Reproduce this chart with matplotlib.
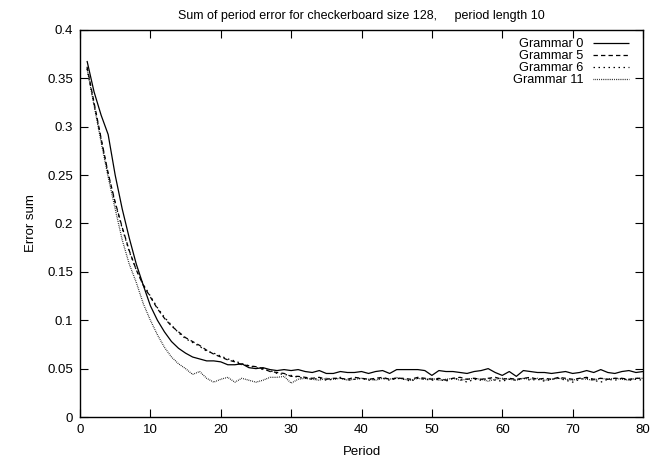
import matplotlib
matplotlib.use("Agg")
import matplotlib.pyplot as plt

plt.rcParams['font.family'] = ['Liberation Sans', 'DejaVu Sans']

periods = list(range(1, 81))

grammar0 = [0.368, 0.336, 0.312, 0.292, 0.250, 0.215, 0.185, 0.158, 0.136, 0.115,
            0.100, 0.088, 0.078, 0.071, 0.066, 0.062, 0.060, 0.058, 0.058, 0.057,
            0.054, 0.054, 0.055, 0.051, 0.050, 0.051, 0.049, 0.048, 0.049, 0.048,
            0.049, 0.047, 0.046, 0.048, 0.045, 0.045, 0.047, 0.046, 0.046, 0.047,
            0.045, 0.047, 0.048, 0.045, 0.049, 0.049, 0.049, 0.049, 0.048, 0.043,
            0.048, 0.047, 0.047, 0.046, 0.045, 0.047, 0.048, 0.050, 0.046, 0.043,
            0.047, 0.042, 0.048, 0.047, 0.046, 0.046, 0.045, 0.046, 0.047, 0.045,
            0.046, 0.048, 0.046, 0.049, 0.046, 0.045, 0.047, 0.048, 0.046, 0.047]

grammar5 = [0.362, 0.325, 0.288, 0.252, 0.222, 0.196, 0.172, 0.152, 0.136, 0.124,
            0.112, 0.102, 0.094, 0.088, 0.082, 0.078, 0.074, 0.069, 0.065, 0.062,
            0.059, 0.057, 0.054, 0.053, 0.052, 0.050, 0.047, 0.046, 0.045, 0.042,
            0.042, 0.041, 0.040, 0.041, 0.039, 0.040, 0.040, 0.039, 0.041, 0.040,
            0.039, 0.040, 0.041, 0.039, 0.040, 0.040, 0.039, 0.041, 0.040, 0.039,
            0.040, 0.038, 0.040, 0.041, 0.039, 0.040, 0.039, 0.040, 0.041, 0.039,
            0.040, 0.039, 0.040, 0.041, 0.039, 0.040, 0.039, 0.041, 0.040, 0.039,
            0.040, 0.041, 0.039, 0.040, 0.039, 0.040, 0.040, 0.039, 0.040, 0.040]

grammar6 = [0.360, 0.323, 0.287, 0.251, 0.221, 0.195, 0.171, 0.152, 0.137, 0.125,
            0.113, 0.103, 0.095, 0.087, 0.081, 0.077, 0.073, 0.068, 0.066, 0.063,
            0.060, 0.058, 0.055, 0.053, 0.051, 0.049, 0.048, 0.045, 0.044, 0.043,
            0.041, 0.040, 0.039, 0.040, 0.038, 0.039, 0.041, 0.038, 0.039, 0.040,
            0.038, 0.039, 0.040, 0.038, 0.040, 0.039, 0.037, 0.040, 0.039, 0.038,
            0.039, 0.037, 0.040, 0.039, 0.036, 0.039, 0.038, 0.040, 0.038, 0.037,
            0.039, 0.038, 0.040, 0.038, 0.039, 0.037, 0.039, 0.040, 0.038, 0.036,
            0.039, 0.040, 0.038, 0.036, 0.039, 0.038, 0.040, 0.038, 0.039, 0.038]

grammar11 = [0.360, 0.322, 0.284, 0.248, 0.215, 0.183, 0.158, 0.139, 0.117, 0.100,
             0.085, 0.072, 0.062, 0.055, 0.050, 0.044, 0.047, 0.040, 0.036, 0.039,
             0.041, 0.036, 0.040, 0.038, 0.036, 0.038, 0.041, 0.041, 0.042, 0.035,
             0.039, 0.040, 0.039, 0.038, 0.040, 0.039, 0.040, 0.038, 0.039, 0.040,
             0.039, 0.038, 0.040, 0.039, 0.041, 0.039, 0.038, 0.040, 0.039, 0.040,
             0.038, 0.039, 0.040, 0.038, 0.039, 0.040, 0.039, 0.037, 0.039, 0.040,
             0.039, 0.038, 0.040, 0.039, 0.040, 0.038, 0.039, 0.040, 0.039, 0.038,
             0.040, 0.039, 0.038, 0.040, 0.039, 0.040, 0.039, 0.038, 0.040, 0.040]

series = [("Grammar 0", grammar0, (0, ())),
          ("Grammar 5", grammar5, (0, (3.5, 2.5))),
          ("Grammar 6", grammar6, (0, (1.2, 2.8))),
          ("Grammar 11", grammar11, (0, (0.6, 0.9)))]

xticks = [0, 10, 20, 30, 40, 50, 60, 70, 80]
yticks = [0, 0.05, 0.1, 0.15, 0.2, 0.25, 0.3, 0.35, 0.4]
yticklabels = ["0", "0.05", "0.1", "0.15", "0.2", "0.25", "0.3", "0.35", "0.4"]

fig = plt.figure(figsize=(6.64, 4.58), dpi=100)
ax = fig.add_axes([80/664, 41/458, 563/664, 387/458])

for label, vals, ls in series:
    ax.plot(periods, vals, color="black", lw=0.9, linestyle=ls, label=label)

ax.set_xlim(0, 80)
ax.set_ylim(0, 0.4)
ax.set_xticks(xticks)
ax.set_yticks(yticks)
ax.set_yticklabels(yticklabels)
ax.tick_params(direction="in", length=6, width=0.8, top=True, right=True,
               labelsize=9.5, pad=5)
for sp in ax.spines.values():
    sp.set_linewidth(1.0)

ax.set_xlabel("Period", fontsize=9.5, labelpad=7)
ax.set_ylabel("Error sum", fontsize=9.5, labelpad=7)
ax.set_title("Sum of period error for checkerboard size 128,     period length 10",
             fontsize=9, pad=8)

leg = ax.legend(loc="upper right", frameon=False, markerfirst=False,
                fontsize=9.2, handlelength=2.8, handletextpad=0.75,
                labelspacing=0.0, borderaxespad=0.0, borderpad=0.0,
                bbox_to_anchor=(1 - 14/563, 1 - 8/387))

fig.savefig("out.png", dpi=100)
